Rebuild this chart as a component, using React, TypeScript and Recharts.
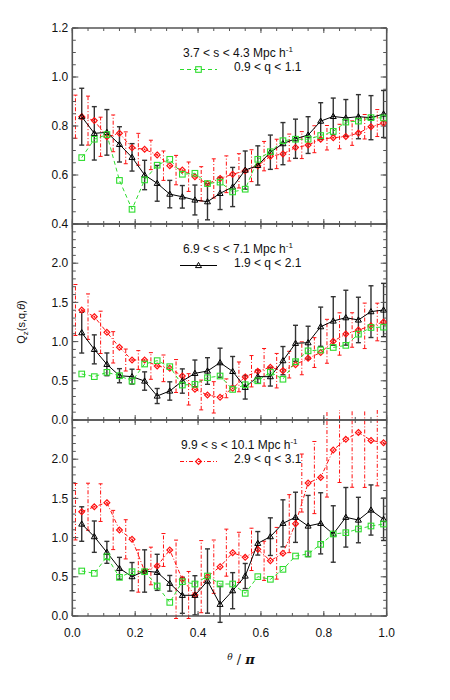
import React from 'react';
import { ComposedChart, Scatter, XAxis, YAxis, ErrorBar } from 'recharts';

// theta / pi bin positions
const thetaPi = [0.03, 0.07, 0.11, 0.15, 0.19, 0.23, 0.27, 0.31, 0.35, 0.39, 0.43, 0.47, 0.51, 0.55, 0.59, 0.63, 0.67, 0.71, 0.75, 0.79, 0.83, 0.87, 0.91, 0.95, 0.99];
const xMajor = [0, 0.2, 0.4, 0.6, 0.8, 1.0];
const xMinor = [0, 0.05, 0.1, 0.15, 0.2, 0.25, 0.3, 0.35, 0.4, 0.45, 0.5, 0.55, 0.6, 0.65, 0.7, 0.75, 0.8, 0.85, 0.9, 0.95, 1.0];

// Panel 1: 3.7 < s < 4.3
const p1Major = [0.4, 0.6, 0.8, 1.0, 1.2];
const p1Minor = [0.4, 0.45, 0.5, 0.55, 0.6, 0.65, 0.7, 0.75, 0.8, 0.85, 0.9, 0.95, 1.0, 1.05, 1.1, 1.15, 1.2];
const black1 = [0.838, 0.770, 0.774, 0.725, 0.672, 0.600, 0.566, 0.522, 0.511, 0.498, 0.491, 0.525, 0.551, 0.620, 0.639, 0.693, 0.728, 0.748, 0.763, 0.820, 0.839, 0.833, 0.838, 0.834, 0.849];
const black1Err = [0.116, 0.109, 0.093, 0.072, 0.056, 0.060, 0.073, 0.056, 0.046, 0.061, 0.074, 0.066, 0.080, 0.078, 0.080, 0.070, 0.086, 0.080, 0.075, 0.075, 0.075, 0.075, 0.090, 0.090, 0.096];
const green1 = [0.671, 0.746, 0.765, 0.578, 0.460, 0.580, 0.640, 0.664, 0.603, 0.607, 0.565, 0.571, 0.531, 0.542, 0.664, 0.695, 0.740, 0.746, 0.746, 0.761, 0.778, 0.816, 0.820, 0.834, 0.833];
const red1 = [0.838, 0.822, 0.756, 0.770, 0.711, 0.705, 0.682, 0.638, 0.620, 0.593, 0.564, 0.586, 0.603, 0.617, 0.638, 0.677, 0.686, 0.712, 0.722, 0.746, 0.752, 0.757, 0.771, 0.797, 0.812];
const red1Err = [0.088, 0.100, 0.080, 0.075, 0.065, 0.065, 0.060, 0.060, 0.060, 0.060, 0.070, 0.080, 0.075, 0.070, 0.065, 0.060, 0.060, 0.055, 0.055, 0.055, 0.050, 0.050, 0.050, 0.050, 0.055];

// Panel 2: 6.9 < s < 7.1
const p23Major = [0, 0.5, 1.0, 1.5, 2.0];
const p23Minor = [0, 0.1, 0.2, 0.3, 0.4, 0.5, 0.6, 0.7, 0.8, 0.9, 1.0, 1.1, 1.2, 1.3, 1.4, 1.5, 1.6, 1.7, 1.8, 1.9, 2.0, 2.1, 2.2, 2.3, 2.4, 2.5];
const black2 = [1.114, 0.901, 0.710, 0.565, 0.553, 0.497, 0.306, 0.370, 0.497, 0.595, 0.625, 0.731, 0.620, 0.417, 0.553, 0.553, 0.757, 0.978, 0.986, 1.190, 1.263, 1.305, 1.276, 1.382, 1.403];
const black2Err = [0.26, 0.185, 0.145, 0.09, 0.095, 0.117, 0.096, 0.117, 0.155, 0.17, 0.17, 0.185, 0.19, 0.15, 0.085, 0.12, 0.18, 0.23, 0.21, 0.25, 0.31, 0.35, 0.29, 0.33, 0.34];
const green2 = [0.587, 0.553, 0.608, 0.565, 0.497, 0.714, 0.757, 0.680, 0.446, 0.455, 0.540, 0.561, 0.390, 0.450, 0.500, 0.610, 0.520, 0.744, 0.882, 0.893, 0.925, 0.952, 1.095, 1.180, 1.184];
const red2 = [1.403, 1.318, 1.118, 0.927, 0.765, 0.765, 0.689, 0.659, 0.561, 0.391, 0.319, 0.289, 0.404, 0.550, 0.622, 0.672, 0.629, 0.706, 0.787, 0.860, 1.004, 1.097, 1.148, 1.201, 1.250];
const red2Err = [0.325, 0.29, 0.27, 0.2, 0.14, 0.12, 0.17, 0.17, 0.21, 0.2, 0.19, 0.2, 0.12, 0.19, 0.2, 0.24, 0.22, 0.17, 0.21, 0.19, 0.28, 0.27, 0.22, 0.29, 0.24];

// Panel 3: 9.9 < s < 10.1
const black3 = [1.173, 1.012, 0.812, 0.608, 0.502, 0.574, 0.557, 0.417, 0.264, 0.264, 0.446, 0.149, 0.323, 0.510, 0.927, 1.012, 1.182, 1.259, 1.148, 1.182, 1.046, 1.259, 1.224, 1.352, 1.233];
const black3Err = [0.22, 0.2, 0.14, 0.14, 0.18, 0.27, 0.23, 0.1, 0.23, 0.25, 0.41, 0.23, 0.23, 0.16, 0.15, 0.24, 0.3, 0.32, 0.39, 0.39, 0.36, 0.38, 0.29, 0.32, 0.27];
const green3 = [0.574, 0.544, 0.756, 0.493, 0.565, 0.565, 0.383, 0.174, 0.438, 0.408, 0.510, 0.408, 0.408, 0.289, 0.502, 0.468, 0.595, 0.765, 0.791, 0.914, 1.046, 1.063, 1.110, 1.148, 1.173];
const red3 = [1.330, 1.394, 1.446, 1.097, 0.978, 0.574, 0.638, 0.842, 0.468, 0.268, 0.502, 0.629, 0.808, 0.748, 0.850, 0.704, 0.800, 1.178, 1.696, 1.766, 2.117, 2.253, 2.342, 2.240, 2.210];
const red3Err = [0.36, 0.3, 0.24, 0.25, 0.25, 0.27, 0.24, 0.21, 0.5, 0.3, 0.46, 0.34, 0.3, 0.32, 0.27, 0.25, 0.33, 0.37, 0.37, 0.46, 0.6, 0.55, 0.7, 0.6, 0.55];

const legendS = ['3.7 < s < 4.3 Mpc h', '6.9 < s < 7.1 Mpc h', '9.9 < s < 10.1 Mpc h'];
const legendQ = ['0.9 < q < 1.1', '1.9 < q < 2.1', '2.9 < q < 3.1'];

const RED = '#ff1010';
const GREEN = '#2edc2e';
const FRAME = '#555';
const FONT = '"Liberation Sans", Arial, sans-serif';

const PLOT_LEFT = 72.3;
const PLOT_RIGHT = 386.7;
const PLOT_H = 196;
const PANEL_TOPS = [28, 224, 420];
const THIN = 0.001;

const triPts = (cx: number, cy: number) => `${cx},${cy - 3.1} ${cx - 3},${cy + 2.1} ${cx + 3},${cy + 2.1}`;
const diaPts = (cx: number, cy: number) => `${cx},${cy - 2.9} ${cx + 2.9},${cy} ${cx},${cy + 2.9} ${cx - 2.9},${cy}`;

const Tri = (p: any) =>
  p.cx == null ? <g /> : <polygon points={triPts(p.cx, p.cy)} fill="none" stroke="#000" strokeWidth={1} />;
const Sq = (p: any) =>
  p.cx == null ? <g /> : (
    <rect x={p.cx - 2.8} y={p.cy - 2.8} width={5.6} height={5.6} fill="none" stroke={GREEN} strokeWidth={1.1} />
  );
const Dia = (p: any) =>
  p.cx == null ? <g /> : (
    <g>
      <polygon points={diaPts(p.cx, p.cy)} fill="none" stroke={RED} strokeWidth={1.2} />
      <circle cx={p.cx} cy={p.cy} r={0.9} fill={RED} />
    </g>
  );
const NoShape = () => <g />;
const NoTick = () => <g />;

type PanelProps = {
  top: number;
  domain: [number, number];
  major: number[];
  minor: number[];
  showX: boolean;
  black: number[];
  blackErr: number[];
  green: number[];
  red: number[];
  redErr: number[];
};

function Panel({ top, domain, major, minor, showX, black, blackErr, green, red, redErr }: PanelProps) {
  const blackData = thetaPi.map((x, i) => ({ x, y: black[i], e: blackErr[i] }));
  const greenData = thetaPi.map((x, i) => ({ x, y: green[i] }));
  const redData = thetaPi.map((x, i) => ({ x, y: red[i] }));
  const redBarData = thetaPi.map((x, i) => ({ x: x - 0.02, y: red[i], e: redErr[i] }));
  const height = showX ? PLOT_H + 10 + 40 : PLOT_H + 20;
  const yLabAxisWidth = 40;
  const tickStroke = { stroke: FRAME, strokeWidth: 1 };
  const frameLine = { stroke: FRAME, strokeWidth: 1.6 };
  const common = { allowDataOverflow: true, interval: 0 as const, type: 'number' as const };
  return (
    <div style={{ position: 'absolute', left: 0, top: top - 10 }}>
      <ComposedChart
        width={450}
        height={height}
        margin={{ top: 10, bottom: 10, left: PLOT_LEFT - yLabAxisWidth, right: 450 - PLOT_RIGHT }}
      >
        {/* x axes: frame + inward ticks */}
        <XAxis xAxisId="xb" {...common} dataKey="x" domain={[0, 1]} ticks={xMajor} height={THIN}
          mirror orientation="bottom" tick={NoTick} tickSize={5} axisLine={frameLine} tickLine={tickStroke} />
        <XAxis xAxisId="xbm" {...common} dataKey="x" domain={[0, 1]} ticks={xMinor} height={THIN}
          mirror orientation="bottom" tick={NoTick} tickSize={3} axisLine={false} tickLine={tickStroke} />
        <XAxis xAxisId="xt" {...common} dataKey="x" domain={[0, 1]} ticks={xMajor} height={THIN}
          mirror orientation="top" tick={NoTick} tickSize={5} axisLine={frameLine} tickLine={tickStroke} />
        <XAxis xAxisId="xtm" {...common} dataKey="x" domain={[0, 1]} ticks={xMinor} height={THIN}
          mirror orientation="top" tick={NoTick} tickSize={3} axisLine={false} tickLine={tickStroke} />
        {showX && (
          <XAxis xAxisId="xl" {...common} dataKey="x" domain={[0, 1]} ticks={xMajor}
            orientation="bottom" height={30} tickSize={0} tickMargin={12} axisLine={false} tickLine={false}
            tickFormatter={(v: number) => v.toFixed(1)}
            tick={{ fontSize: 12, fontFamily: FONT, fill: '#111' }} />
        )}
        {/* y axes */}
        <YAxis yAxisId="yl" {...common} dataKey="y" domain={domain} ticks={major}
          orientation="left" width={yLabAxisWidth} tickSize={0} tickMargin={4} axisLine={false} tickLine={false}
          tickFormatter={(v: number) => v.toFixed(1)}
          tick={{ fontSize: 12, fontFamily: FONT, fill: '#111' }} />
        <YAxis yAxisId="ys" {...common} dataKey="y" domain={domain} ticks={major} width={THIN}
          orientation="left" mirror tick={NoTick} tickSize={6} axisLine={frameLine} tickLine={tickStroke} />
        <YAxis yAxisId="ysm" {...common} dataKey="y" domain={domain} ticks={minor} width={THIN}
          orientation="left" mirror tick={NoTick} tickSize={3.5} axisLine={false} tickLine={tickStroke} />
        <YAxis yAxisId="yr" {...common} dataKey="y" domain={domain} ticks={major} width={THIN}
          orientation="right" mirror tick={NoTick} tickSize={6} axisLine={frameLine} tickLine={tickStroke} />
        <YAxis yAxisId="yrm" {...common} dataKey="y" domain={domain} ticks={minor} width={THIN}
          orientation="right" mirror tick={NoTick} tickSize={3.5} axisLine={false} tickLine={tickStroke} />

        {/* red: offset dash-dot error bars */}
        <Scatter xAxisId="xb" yAxisId="ys" data={redBarData} shape={NoShape} isAnimationActive={false}>
          <ErrorBar dataKey="e" direction="y" width={2} stroke={RED} strokeWidth={1} strokeDasharray="4 2 1 2" isAnimationActive={false} />
        </Scatter>
        {/* red markers + dash-dot line */}
        <Scatter xAxisId="xb" yAxisId="ys" data={redData} shape={Dia} isAnimationActive={false}
          line={{ stroke: RED, strokeWidth: 1, strokeDasharray: '4 2 1 2' }} lineType="joint" />
        {/* black with error bars */}
        <Scatter xAxisId="xb" yAxisId="ys" data={blackData} shape={Tri} isAnimationActive={false}
          line={{ stroke: '#000', strokeWidth: 1 }} lineType="joint">
          <ErrorBar dataKey="e" direction="y" width={2.5} stroke="#333" strokeWidth={1.4} isAnimationActive={false} />
        </Scatter>
        {/* green dashed */}
        <Scatter xAxisId="xb" yAxisId="ys" data={greenData} shape={Sq} isAnimationActive={false}
          line={{ stroke: GREEN, strokeWidth: 1, strokeDasharray: '4 3' }} lineType="joint" />
      </ComposedChart>
    </div>
  );
}

function LegendBlock({ idx }: { idx: number }) {
  const T = PANEL_TOPS[idx];
  const ly = T + 41.5;
  const x0 = 180;
  const x1 = 217;
  const xm = (x0 + x1) / 2;
  let sample: React.ReactNode = null;
  if (idx === 0) {
    sample = (
      <g>
        <line x1={x0} y1={ly} x2={x1} y2={ly} stroke={GREEN} strokeWidth={1} strokeDasharray="4 3" />
        <rect x={xm - 2.8} y={ly - 2.8} width={5.6} height={5.6} fill="none" stroke={GREEN} strokeWidth={1.1} />
      </g>
    );
  } else if (idx === 1) {
    sample = (
      <g>
        <line x1={x0} y1={ly} x2={x1} y2={ly} stroke="#000" strokeWidth={1} />
        <polygon points={triPts(xm, ly)} fill="none" stroke="#000" />
      </g>
    );
  } else {
    sample = (
      <g>
        <line x1={x0} y1={ly} x2={x1} y2={ly} stroke={RED} strokeWidth={1} strokeDasharray="4 2 1 2" />
        <polygon points={diaPts(xm, ly)} fill="none" stroke={RED} strokeWidth={1.2} />
      </g>
    );
  }
  return (
    <g>
      <text x={idx === 2 ? 181 : 183} y={T + 28.5} fontSize={12} fontFamily={FONT} fill="#111">
        {legendS[idx]}
        <tspan dy={-5} fontSize={8}>-1</tspan>
      </text>
      {sample}
      <text x={234} y={T + 42.5} fontSize={12} fontFamily={FONT} fill="#111">{legendQ[idx]}</text>
    </g>
  );
}

export default function App() {
  return (
    <div style={{ position: 'absolute', left: 0, top: 0, width: 450, height: 700, background: '#fff' }}>
      <Panel top={PANEL_TOPS[0]} domain={[0.4, 1.2]} major={p1Major} minor={p1Minor} showX={false}
        black={black1} blackErr={black1Err} green={green1} red={red1} redErr={red1Err} />
      <Panel top={PANEL_TOPS[1]} domain={[0, 2.5]} major={p23Major} minor={p23Minor} showX={false}
        black={black2} blackErr={black2Err} green={green2} red={red2} redErr={red2Err} />
      <Panel top={PANEL_TOPS[2]} domain={[0, 2.5]} major={p23Major} minor={p23Minor} showX={true}
        black={black3} blackErr={black3Err} green={green3} red={red3} redErr={red3Err} />
      <svg width={450} height={700} style={{ position: 'absolute', left: 0, top: 0, pointerEvents: 'none' }}>
        <LegendBlock idx={0} />
        <LegendBlock idx={1} />
        <LegendBlock idx={2} />
        <text transform="rotate(-90 25 322)" x={25} y={322} textAnchor="middle" fontSize={11} fontFamily={FONT} fill="#111">
          Q<tspan dy={3} fontSize={8}>z</tspan><tspan dy={-3}>(s,q,</tspan><tspan fontStyle="italic">θ</tspan>)
        </text>
        <text x={241} y={664} textAnchor="middle" fontFamily='"DejaVu Serif", serif' fill="#111">
          <tspan fontSize={9} fontStyle="italic" dy={-4}>θ</tspan>
          <tspan fontSize={13} dy={4}> / </tspan>
          <tspan fontSize={13} fontStyle="italic" fontWeight="bold">π</tspan>
        </text>
      </svg>
    </div>
  );
}
